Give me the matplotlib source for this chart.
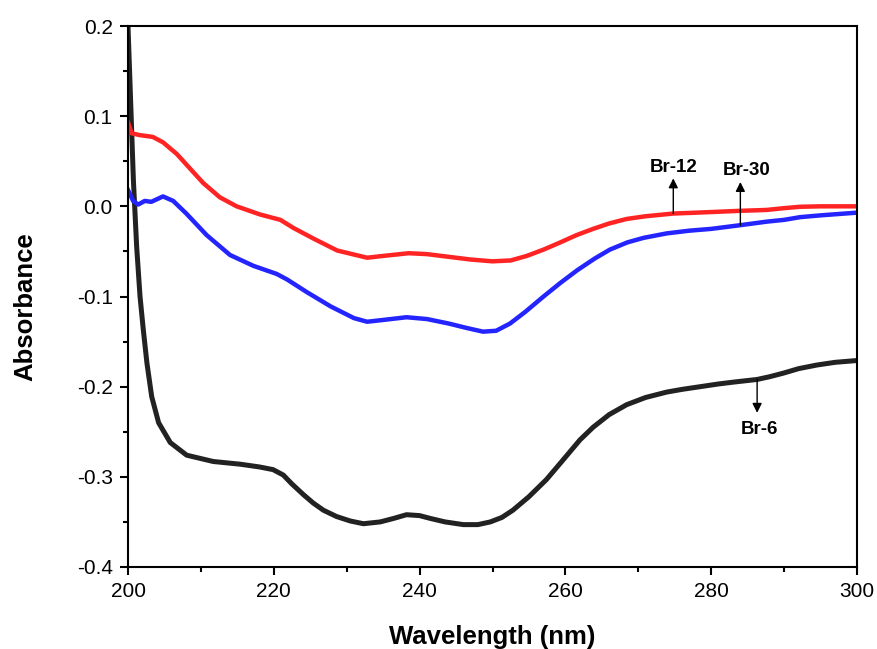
import numpy as np
import matplotlib
matplotlib.use("Agg")
import matplotlib.pyplot as plt
from matplotlib.ticker import MultipleLocator, FormatStrFormatter

plt.rcParams['font.family'] = ['Liberation Sans', 'DejaVu Sans']
plt.rcParams['axes.unicode_minus'] = False

# Br-6 (negro)
x_br6 = [200, 200.74, 201.19, 201.65, 202.1, 202.6, 203.25, 204.2, 205.8, 208.05, 211.7,
         215.4, 218, 219.9, 221.3, 222.5, 224.1, 225.4, 226.8, 228.6, 230.5, 232.3, 234.6,
         236.5, 238.2, 240, 241.4, 243.5, 246, 248, 249.7, 251.3, 252.8, 255, 257.4,
         259.5, 262, 263.8, 266, 268.4, 271, 273.9, 276, 278.5, 281, 283, 286.3, 288,
         289.9, 292, 294.5, 297, 300]
y_br6 = [0.2, 0.029, -0.045, -0.100, -0.137, -0.174, -0.211, -0.240, -0.262, -0.276,
         -0.283, -0.286, -0.289, -0.292, -0.298, -0.308, -0.320, -0.329, -0.337, -0.344,
         -0.349, -0.352, -0.350, -0.346, -0.342, -0.343, -0.346, -0.350, -0.353, -0.353,
         -0.350, -0.345, -0.337, -0.322, -0.303, -0.283, -0.259, -0.245, -0.231, -0.220,
         -0.212, -0.206, -0.203, -0.200, -0.197, -0.195, -0.192, -0.189, -0.185, -0.180,
         -0.176, -0.173, -0.171]

# Br-12 (vermelho)
x_br12 = [200, 200.5, 201.6, 203.4, 204.8, 206.7, 208.5, 210.3, 212.6, 214.9, 218.1,
          220.9, 222.7, 225.5, 228.7, 232.8, 235, 238.5, 241, 244, 247, 250, 252.5,
          254.7, 257, 259.3, 261.5, 263.8, 266, 268.4, 271, 274.8, 278, 281, 283.9,
          287.6, 290, 292.2, 295, 300]
y_br12 = [0.093, 0.081, 0.079, 0.077, 0.071, 0.058, 0.042, 0.026, 0.010, 0.0, -0.009,
          -0.015, -0.024, -0.036, -0.049, -0.057, -0.055, -0.052, -0.053, -0.056, -0.059,
          -0.061, -0.060, -0.055, -0.048, -0.040, -0.032, -0.025, -0.019, -0.014, -0.011,
          -0.008, -0.007, -0.006, -0.005, -0.004, -0.002, -0.0005, 0.0, 0.0]

# Br-30 (azul)
x_br30 = [200, 200.7, 201.4, 202.3, 203.2, 204.8, 206.2, 208, 210.8, 214, 217.2, 220.4,
          221.8, 224.5, 227.8, 231, 232.8, 235, 238.2, 241, 244, 246.5, 248.7, 250.5,
          252.4, 254.5, 257, 259.3, 261.6, 264, 266.1, 268.5, 270.7, 273.9, 277, 280,
          283.9, 287.6, 290, 292.2, 295, 300]
y_br30 = [0.018, 0.006, 0.002, 0.006, 0.005, 0.011, 0.006, -0.008, -0.032, -0.054,
          -0.066, -0.075, -0.081, -0.095, -0.111, -0.124, -0.128, -0.126, -0.123, -0.125,
          -0.130, -0.135, -0.139, -0.138, -0.130, -0.117, -0.100, -0.085, -0.071, -0.058,
          -0.048, -0.040, -0.035, -0.030, -0.027, -0.025, -0.021, -0.017, -0.015, -0.012,
          -0.010, -0.007]

# Rótulos: (texto, x da seta, y inicio, y ponta, x texto, y texto)
labels = [
    ("Br-12", 274.8, -0.008, 0.031, 274.8, 0.043),
    ("Br-30", 284.0, -0.021, 0.027, 284.9, 0.040),
    ("Br-6", 286.3, -0.192, -0.229, 286.6, -0.248),
]

fig = plt.figure(figsize=(8.77, 6.49), dpi=100)
ax = fig.add_axes([128 / 877, 1 - 567 / 649, (857 - 128) / 877, (567 - 26) / 649])

ax.plot(x_br6, y_br6, color='#222222', lw=3.6, solid_joinstyle='round')
ax.plot(x_br12, y_br12, color='#ff2424', lw=3.2, solid_joinstyle='round')
ax.plot(x_br30, y_br30, color='#2424ff', lw=3.2, solid_joinstyle='round')

for txt, xa, y0, y1, xt, yt in labels:
    ax.annotate('', xy=(xa, y1), xytext=(xa, y0),
                arrowprops=dict(arrowstyle='-|>', color='black', lw=1.0,
                                mutation_scale=14, shrinkA=0, shrinkB=0))
    ax.text(xt, yt, txt, ha='center', va='center', fontsize=13.5, fontweight='bold')

ax.set_xlim(200, 300)
ax.set_ylim(-0.4, 0.2)
ax.xaxis.set_major_locator(MultipleLocator(20))
ax.xaxis.set_minor_locator(MultipleLocator(10))
ax.yaxis.set_major_locator(MultipleLocator(0.1))
ax.yaxis.set_minor_locator(MultipleLocator(0.05))
ax.yaxis.set_major_formatter(FormatStrFormatter('%.1f'))

for s in ax.spines.values():
    s.set_linewidth(1.5)
ax.tick_params(which='both', direction='out', top=False, right=False, width=1.5)
ax.tick_params(which='major', length=6, labelsize=15, pad=5)
ax.tick_params(which='minor', length=3.5)

fig.text(492 / 877, 5 / 649, "Wavelength (nm)", ha='center', va='baseline',
         fontsize=18.5, fontweight='bold')
fig.text(25 / 877, 1 - 307 / 649, "Absorbance", ha='center', va='center',
         rotation=90, fontsize=18.5, fontweight='bold')

fig.savefig('out.png', dpi=100)
